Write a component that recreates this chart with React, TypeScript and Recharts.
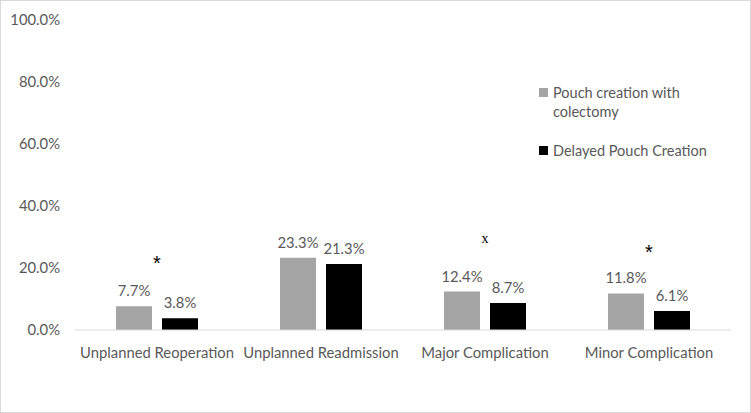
import { Bar, BarChart, LabelList, ReferenceDot, XAxis, YAxis } from "recharts";

const categories = ["Unplanned Reoperation", "Unplanned Readmission", "Major Complication", "Minor Complication"];
const withColectomy = [7.7, 23.3, 12.4, 11.8];
const delayedPouch = [3.8, 21.3, 8.7, 6.1];
const yTicks = [0, 20, 40, 60, 80, 100];

// significance markers drawn above groups (value = height on the % axis)
const markers = [
  { category: "Unplanned Reoperation", symbol: "*", value: 21.5 },
  { category: "Major Complication", symbol: "x", value: 29.7 },
  { category: "Minor Complication", symbol: "*", value: 25.1 },
];

const data = categories.map((name, i) => ({ name, a: withColectomy[i], b: delayedPouch[i] }));

const FONT = "Lato, 'Noto Sans', sans-serif";
const TEXT = "#595959";
const tickStyle = { fill: TEXT, fontSize: 14.8, fontFamily: FONT };

function LegendBox() {
  const item = (color: string, lines: string[], top: number) => (
    <div style={{ position: "absolute", left: 538, top, display: "flex", alignItems: "flex-start" }}>
      <div style={{ width: 9, height: 9, background: color, marginTop: 5, marginRight: 5 }} />
      <div style={{ fontFamily: FONT, fontSize: 14.5, color: TEXT, lineHeight: "19px" }}>
        {lines.map((l) => (
          <div key={l}>{l}</div>
        ))}
      </div>
    </div>
  );
  return (
    <>
      {item("#a5a5a5", ["Pouch creation with", "colectomy"], 82)}
      {item("#000000", ["Delayed Pouch Creation"], 140)}
    </>
  );
}

export default function App() {
  return (
    <div
      style={{
        position: "absolute",
        left: 0,
        top: 0,
        width: 751,
        height: 413,
        boxSizing: "border-box",
        border: "1px solid #d9d9d9",
        background: "#fff",
      }}
    >
      <BarChart
        width={749}
        height={411}
        data={data}
        margin={{ top: 19, right: 19, bottom: 52, left: 0 }}
        barCategoryGap="25%"
        barGap={10}
      >
        <XAxis
          dataKey="name"
          tickLine={false}
          axisLine={{ stroke: "#d9d9d9" }}
          tickSize={0}
          tickMargin={17}
          height={30}
          interval={0}
          tick={tickStyle}
        />
        <YAxis
          domain={[0, 100]}
          ticks={yTicks}
          width={74}
          tickLine={false}
          axisLine={false}
          tickSize={0}
          tickMargin={15}
          tickFormatter={(v) => `${Number(v).toFixed(1)}%`}
          tick={tickStyle}
        />
        <Bar dataKey="a" fill="#a5a5a5" isAnimationActive={false}>
          <LabelList dataKey="a" position="top" offset={10} formatter={(v: number) => `${v}%`} style={tickStyle} />
        </Bar>
        <Bar dataKey="b" fill="#000000" isAnimationActive={false}>
          <LabelList dataKey="b" position="top" offset={10} formatter={(v: number) => `${v}%`} style={tickStyle} />
        </Bar>
        {markers.map((m) => (
          <ReferenceDot
            key={m.category}
            x={m.category}
            y={m.value}
            r={0}
            fill="none"
            stroke="none"
            label={{
              value: m.symbol,
              position: "center",
              fill: "#000",
              fontSize: m.symbol === "x" ? 14 : 20,
              fontFamily: m.symbol === "x" ? "'Liberation Serif', serif" : "'Liberation Sans', sans-serif",
            }}
          />
        ))}
      </BarChart>
      <LegendBox />
    </div>
  );
}
